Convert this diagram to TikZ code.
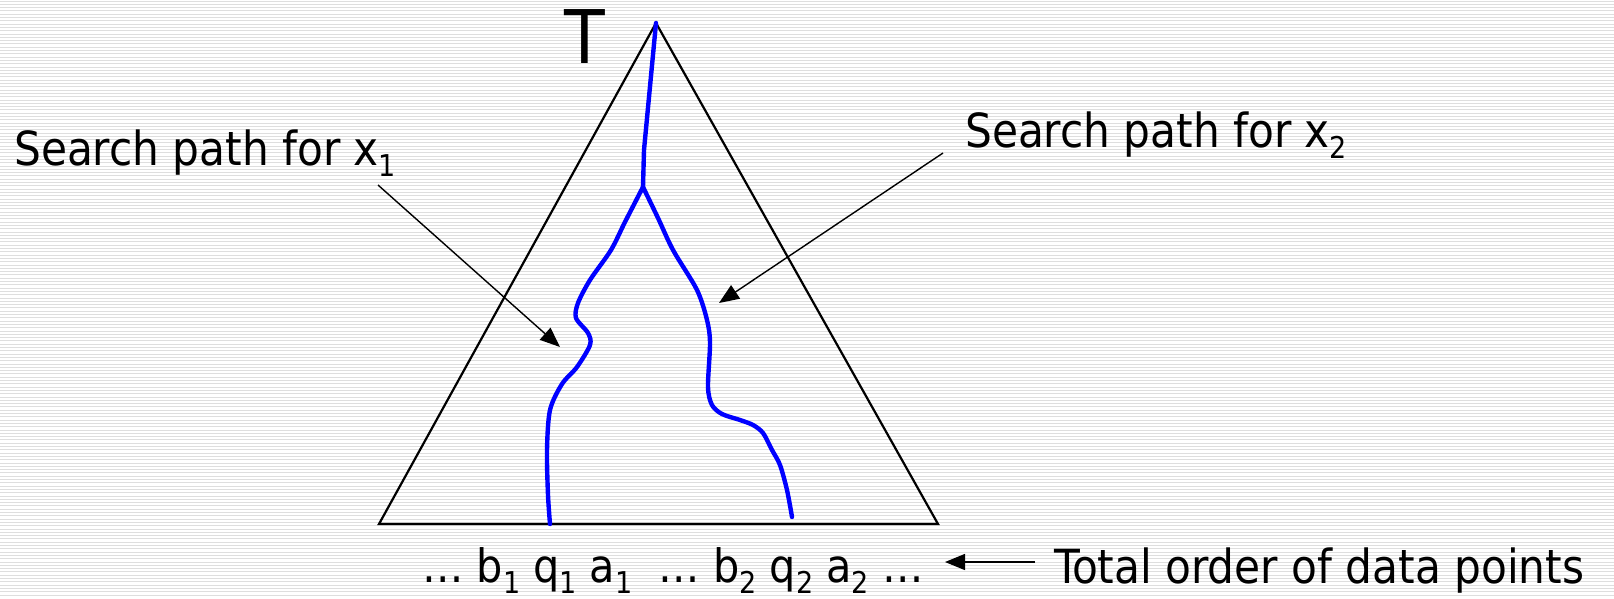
\documentclass[tikz,border=0pt]{standalone}
\usepackage{fontspec}
\setmainfont{DejaVu Sans Condensed}
\usetikzlibrary{arrows.meta}
\newcommand{\lowidx}[1]{\raisebox{-11pt}{\fontsize{30}{32}\selectfont #1}}

\begin{document}
\begin{tikzpicture}[x=1pt, y=-1pt, font=\fontsize{47}{56}\selectfont,
  txt/.style={inner sep=0pt, anchor=base west},
  ptr/.style={line width=1.4pt, -{Triangle[length=20pt,width=16pt]}},
  bluepath/.style={blue, line width=4.4pt, line join=round, line cap=round}]
\useasboundingbox (0,0) rectangle (1614,598);
\fill[white] (0,0) rectangle (1614,598);
\foreach \y in {1,4.3,...,598}
  \draw[black!13, line width=1pt] (0,\y) -- (1614,\y);
\coordinate (apex) at (656,23);
\coordinate (bl) at (379,524);
\coordinate (br) at (938,524);
\coordinate (fork) at (643,187);
\draw[line width=2.2pt] (apex) -- (bl) -- (br) -- cycle;
\draw[bluepath] (apex) -- (644,150) -- (fork);
\draw[bluepath] plot[smooth, tension=0.5] coordinates {(fork) (625,222) (611,250) (590,280)
  (578,303) (576,318) (588,333) (590,345) (577,367) (562,384) (550,410) (547,450) (548,495) (550,524)};
\draw[bluepath] plot[smooth, tension=0.5] coordinates {(fork) (658,218) (673,250) (697,290)
  (707,320) (710,343) (708,387) (712,405) (722,414) (740,420) (753,425) (763,433) (772,450)
  (780,465) (787,490) (792,517)};
\node[inner sep=0pt, anchor=base] (tname) at (585,63) {\fontsize{74}{80}\selectfont T};
\node[txt] (lab1) at (14,165) {Search path for x\lowidx{1}};
\node[txt] (lab2) at (965,147) {Search path for x\lowidx{2}};
\node[txt] (order) at (422,582) {\fontsize{46}{56}\selectfont … b\lowidx{1} q\lowidx{1} a\lowidx{1}\ \ … b\lowidx{2} q\lowidx{2} a\lowidx{2} …};
\node[txt] (total) at (1054,583) {Total order of data points};
\coordinate (s1) at (378,185);
\coordinate (t1) at (560,347);
\coordinate (s2) at (943,153);
\coordinate (t2) at (719,303);
\coordinate (s3) at (1035,562);
\coordinate (t3) at (945,562);
\draw[ptr] (s1) -- (t1);
\draw[ptr] (s2) -- (t2);
\draw[ptr] (s3) -- (t3);
\end{tikzpicture}
\end{document}
